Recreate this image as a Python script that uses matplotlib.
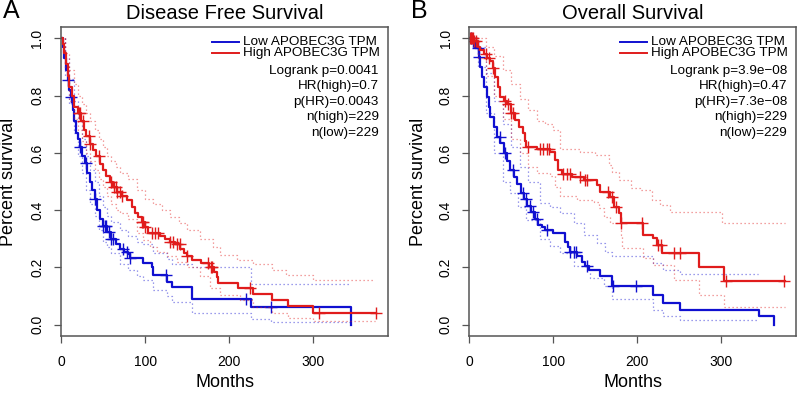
import numpy as np
import matplotlib
matplotlib.use('Agg')
import matplotlib.pyplot as plt

plt.rcParams['font.family'] = ['Liberation Sans', 'DejaVu Sans']

BLUE = '#1010d0'
RED = '#e01c1c'
GRAY = '#555555'

# ---- Panel A: Disease Free Survival (months, survival) ----
dfs_low_t = [0, 2, 4, 6, 8, 10, 12, 14, 16, 18, 20, 22, 25, 28, 31, 34, 37, 40, 43, 46, 50,
             55, 60, 65, 70, 75, 80, 82, 98, 108, 110, 126, 132, 156, 226, 345]
dfs_low_s = [1.0, 0.97, 0.93, 0.89, 0.855, 0.82, 0.795, 0.75, 0.71, 0.67, 0.65, 0.62, 0.59,
             0.565, 0.53, 0.50, 0.47, 0.44, 0.40, 0.37, 0.345, 0.325, 0.30, 0.28, 0.265,
             0.255, 0.245, 0.233, 0.215, 0.20, 0.172, 0.15, 0.13, 0.09, 0.061, 0.0]
dfs_high_t = [0, 2, 4, 6, 8, 10, 13, 16, 20, 24, 27, 30, 34, 38, 42, 46, 50, 54, 58, 62, 66,
              72, 78, 84, 88, 92, 96, 100, 104, 118, 124, 130, 136, 142, 146, 150, 156, 166,
              176, 182, 185, 187, 210, 228, 251, 270, 300, 375]
dfs_high_s = [1.0, 0.98, 0.95, 0.91, 0.87, 0.83, 0.80, 0.76, 0.74, 0.71, 0.68, 0.66, 0.63,
              0.61, 0.59, 0.56, 0.54, 0.52, 0.50, 0.48, 0.465, 0.45, 0.435, 0.41, 0.39, 0.375,
              0.36, 0.34, 0.32, 0.31, 0.30, 0.29, 0.28, 0.265, 0.25, 0.24, 0.226, 0.215, 0.20,
              0.185, 0.165, 0.146, 0.126, 0.106, 0.085, 0.064, 0.042, 0.042]
dfs_low_cens = [8, 12, 22, 30, 40, 50, 52, 54, 57, 60, 62, 74, 78, 82, 125, 220, 250]
dfs_high_cens = [21, 23, 26, 33, 35, 45, 60, 63, 65, 67, 70, 72, 96, 98, 100, 108, 112, 115,
                 130, 133, 138, 141, 150, 175, 178, 180, 225, 307, 375]

dfs_low_up_t = [0, 5, 10, 15, 20, 25, 30, 35, 40, 45, 50, 55, 60, 70, 80, 90, 98, 110, 126,
                132, 156, 226, 345]
dfs_low_up_s = [1.0, 0.93, 0.86, 0.78, 0.71, 0.65, 0.59, 0.54, 0.50, 0.45, 0.41, 0.38, 0.36,
                0.33, 0.31, 0.29, 0.28, 0.25, 0.23, 0.21, 0.20, 0.14, 0.14]
dfs_low_lo_t = [0, 5, 10, 15, 20, 25, 30, 35, 40, 45, 50, 55, 60, 70, 80, 90, 98, 110, 126,
                132, 156, 226, 250, 345]
dfs_low_lo_s = [1.0, 0.87, 0.77, 0.67, 0.59, 0.53, 0.47, 0.42, 0.38, 0.33, 0.29, 0.27, 0.25,
                0.21, 0.19, 0.17, 0.155, 0.12, 0.10, 0.08, 0.042, 0.02, 0.01, 0.0]
dfs_high_up_t = [0, 5, 10, 15, 20, 25, 30, 35, 40, 45, 50, 55, 60, 65, 70, 80, 90, 100, 110,
                 120, 130, 140, 150, 165, 181, 189, 209, 228, 251, 268, 300, 374]
dfs_high_up_s = [1.0, 0.95, 0.89, 0.84, 0.80, 0.77, 0.74, 0.71, 0.68, 0.65, 0.62, 0.59, 0.57,
                 0.55, 0.53, 0.51, 0.47, 0.44, 0.42, 0.40, 0.375, 0.355, 0.33, 0.30, 0.27,
                 0.244, 0.226, 0.21, 0.19, 0.174, 0.157, 0.157]
dfs_high_lo_t = [0, 5, 10, 15, 20, 25, 30, 35, 40, 45, 50, 55, 60, 65, 70, 80, 90, 98, 106,
                 114, 126, 138, 150, 165, 177, 189, 213, 228, 251, 270, 300, 374]
dfs_high_lo_s = [1.0, 0.90, 0.78, 0.72, 0.68, 0.64, 0.60, 0.57, 0.54, 0.51, 0.48, 0.45, 0.42,
                 0.40, 0.39, 0.37, 0.32, 0.296, 0.27, 0.255, 0.24, 0.22, 0.20, 0.168, 0.128,
                 0.105, 0.087, 0.06, 0.042, 0.024, 0.011, 0.011]

# ---- Panel B: Overall Survival ----
os_low_t = [0, 3, 7, 11, 13, 15, 18, 21, 23, 25, 29, 33, 37, 41, 45, 49, 53, 57, 61, 65, 69,
            73, 78, 82, 86, 90, 100, 114, 117, 120, 128, 134, 138, 142, 156, 170, 219, 231,
            251, 345, 362]
os_low_s = [1.0, 0.99, 0.965, 0.935, 0.90, 0.865, 0.83, 0.795, 0.76, 0.726, 0.69, 0.656,
            0.635, 0.60, 0.57, 0.54, 0.515, 0.49, 0.46, 0.44, 0.415, 0.395, 0.37, 0.348, 0.34,
            0.331, 0.319, 0.29, 0.27, 0.255, 0.238, 0.22, 0.203, 0.19, 0.168, 0.133, 0.105,
            0.076, 0.052, 0.029, 0.0]
os_high_t = [0, 5, 10, 13, 17, 21, 25, 28, 31, 34, 37, 41, 45, 50, 54, 59, 64, 66, 68, 80, 96,
             102, 106, 110, 122, 136, 152, 156, 168, 172, 178, 180, 207, 219, 223, 229, 273,
             303, 376]
os_high_s = [1.0, 0.99, 0.97, 0.96, 0.945, 0.93, 0.92, 0.895, 0.865, 0.83, 0.795, 0.78, 0.77,
             0.74, 0.714, 0.69, 0.67, 0.64, 0.62, 0.615, 0.604, 0.575, 0.54, 0.525, 0.517,
             0.505, 0.488, 0.464, 0.447, 0.412, 0.389, 0.354, 0.313, 0.302, 0.279, 0.25, 0.20,
             0.151, 0.151]
os_low_cens = [2, 4, 10, 12, 36, 42, 52, 64, 68, 72, 76, 80, 92, 120, 124, 127, 140, 171, 198]
os_high_cens = [1, 2, 3, 4, 6, 8, 20, 24, 28, 42, 46, 50, 52, 70, 84, 88, 92, 95, 112, 116,
                120, 132, 138, 140, 165, 170, 174, 181, 205, 225, 228, 244, 251, 306, 374]

os_low_up_t = [0, 5, 10, 20, 30, 40, 50, 60, 70, 84, 96, 108, 124, 136, 152, 162, 170, 219,
               231, 251, 344]
os_low_up_s = [1.0, 0.99, 0.97, 0.88, 0.78, 0.70, 0.62, 0.55, 0.50, 0.424, 0.41, 0.39, 0.354,
               0.313, 0.285, 0.255, 0.238, 0.215, 0.19, 0.177, 0.177]
os_low_lo_t = [0, 5, 10, 20, 30, 40, 48, 58, 68, 84, 96, 108, 124, 144, 160, 170, 219, 231,
               251, 344]
os_low_lo_s = [1.0, 0.97, 0.90, 0.74, 0.60, 0.50, 0.46, 0.41, 0.366, 0.30, 0.275, 0.25, 0.203,
               0.163, 0.133, 0.09, 0.052, 0.03, 0.017, 0.017]
os_high_up_t = [0, 10, 20, 30, 40, 50, 60, 70, 80, 90, 100, 108, 132, 150, 166, 170, 178, 193,
                203, 217, 227, 239, 273, 301, 376]
os_high_up_s = [1.0, 1.0, 0.97, 0.94, 0.89, 0.84, 0.79, 0.75, 0.71, 0.70, 0.68, 0.615, 0.604,
                0.592, 0.557, 0.534, 0.505, 0.476, 0.47, 0.435, 0.418, 0.395, 0.395, 0.354,
                0.354]
os_high_lo_t = [0, 10, 20, 30, 40, 50, 60, 70, 80, 96, 102, 108, 128, 148, 154, 160, 168, 180,
                182, 205, 207, 219, 243, 273, 303, 376]
os_high_lo_s = [1.0, 0.93, 0.87, 0.80, 0.72, 0.65, 0.60, 0.55, 0.53, 0.52, 0.48, 0.45, 0.435,
                0.43, 0.406, 0.377, 0.354, 0.313, 0.267, 0.267, 0.232, 0.209, 0.157, 0.105,
                0.062, 0.062]

legend_labels = ['Low APOBEC3G TPM', 'High APOBEC3G TPM']
dfs_stats = ['Logrank p=0.0041', 'HR(high)=0.7', 'p(HR)=0.0043', 'n(high)=229', 'n(low)=229']
os_stats = ['Logrank p=3.9e\u221208', 'HR(high)=0.47', 'p(HR)=7.3e\u221208', 'n(high)=229',
            'n(low)=229']


def step_value(t, s, x):
    idx = np.searchsorted(np.asarray(t), np.asarray(x), side='right') - 1
    return np.asarray(s)[np.clip(idx, 0, len(s) - 1)]


def draw_panel(ax, curves, stats, title, letter, ylab_x):
    for (t, s, cens, up, lo, color) in curves:
        ax.step(up[0], up[1], where='post', color=color, lw=0.9, alpha=0.55,
                linestyle=(0, (1, 2.2)))
        ax.step(lo[0], lo[1], where='post', color=color, lw=0.9, alpha=0.55,
                linestyle=(0, (1, 2.2)))
        ax.step(t, s, where='post', color=color, lw=1.6)
        ax.plot(cens, step_value(t, s, cens), linestyle='none', marker='+',
                markersize=8, markeredgewidth=1.0, color=color)

    ax.set_xlim(0, 389)
    ax.set_ylim(-0.04, 1.04)
    ax.set_xticks([0, 100, 200, 300])
    ax.set_yticks([0.0, 0.2, 0.4, 0.6, 0.8, 1.0])
    ax.set_yticklabels(['0.0', '0.2', '0.4', '0.6', '0.8', '1.0'], rotation=90, va='center')
    ax.tick_params(axis='both', direction='out', length=5, width=0.9, color=GRAY,
                   labelsize=10)
    ax.tick_params(axis='x', pad=9)
    ax.tick_params(axis='y', pad=7)
    for sp in ax.spines.values():
        sp.set_color(GRAY)
        sp.set_linewidth(1.1)

    ax.set_xlabel('Months', fontsize=13, labelpad=3)
    ax.set_ylabel('Percent survival', fontsize=13)
    ax.yaxis.set_label_coords(ylab_x, 0.5)
    ax.set_title(title, fontsize=14.5, pad=6)
    ax.text(-0.177, 1.052, letter, transform=ax.transAxes, fontsize=18,
            ha='left', va='center')

    # legend keys
    for label, color, yy in zip(legend_labels, [BLUE, RED], [0.952, 0.915]):
        ax.plot([0.462, 0.543], [yy, yy], transform=ax.transAxes, color=color, lw=1.4)
        ax.text(0.556, yy, label, transform=ax.transAxes, fontsize=9.7,
                ha='left', va='center')
    for line, yy in zip(stats, [0.858, 0.809, 0.757, 0.709, 0.657]):
        ax.text(0.972, yy, line, transform=ax.transAxes, fontsize=9.7,
                ha='right', va='center')


fig = plt.figure(figsize=(8, 3.95), dpi=100)
axA = fig.add_axes([0.0763, 0.1494, 0.4087, 0.7822])
axB = fig.add_axes([0.5866, 0.1494, 0.4087, 0.7822])

draw_panel(axA,
           [(dfs_low_t, dfs_low_s, dfs_low_cens, (dfs_low_up_t, dfs_low_up_s),
             (dfs_low_lo_t, dfs_low_lo_s), BLUE),
            (dfs_high_t, dfs_high_s, dfs_high_cens, (dfs_high_up_t, dfs_high_up_s),
             (dfs_high_lo_t, dfs_high_lo_s), RED)],
           dfs_stats, 'Disease Free Survival', 'A', -0.134)
draw_panel(axB,
           [(os_low_t, os_low_s, os_low_cens, (os_low_up_t, os_low_up_s),
             (os_low_lo_t, os_low_lo_s), BLUE),
            (os_high_t, os_high_s, os_high_cens, (os_high_up_t, os_high_up_s),
             (os_high_lo_t, os_high_lo_s), RED)],
           os_stats, 'Overall Survival', 'B', -0.129)

fig.savefig('out.png', dpi=100)
